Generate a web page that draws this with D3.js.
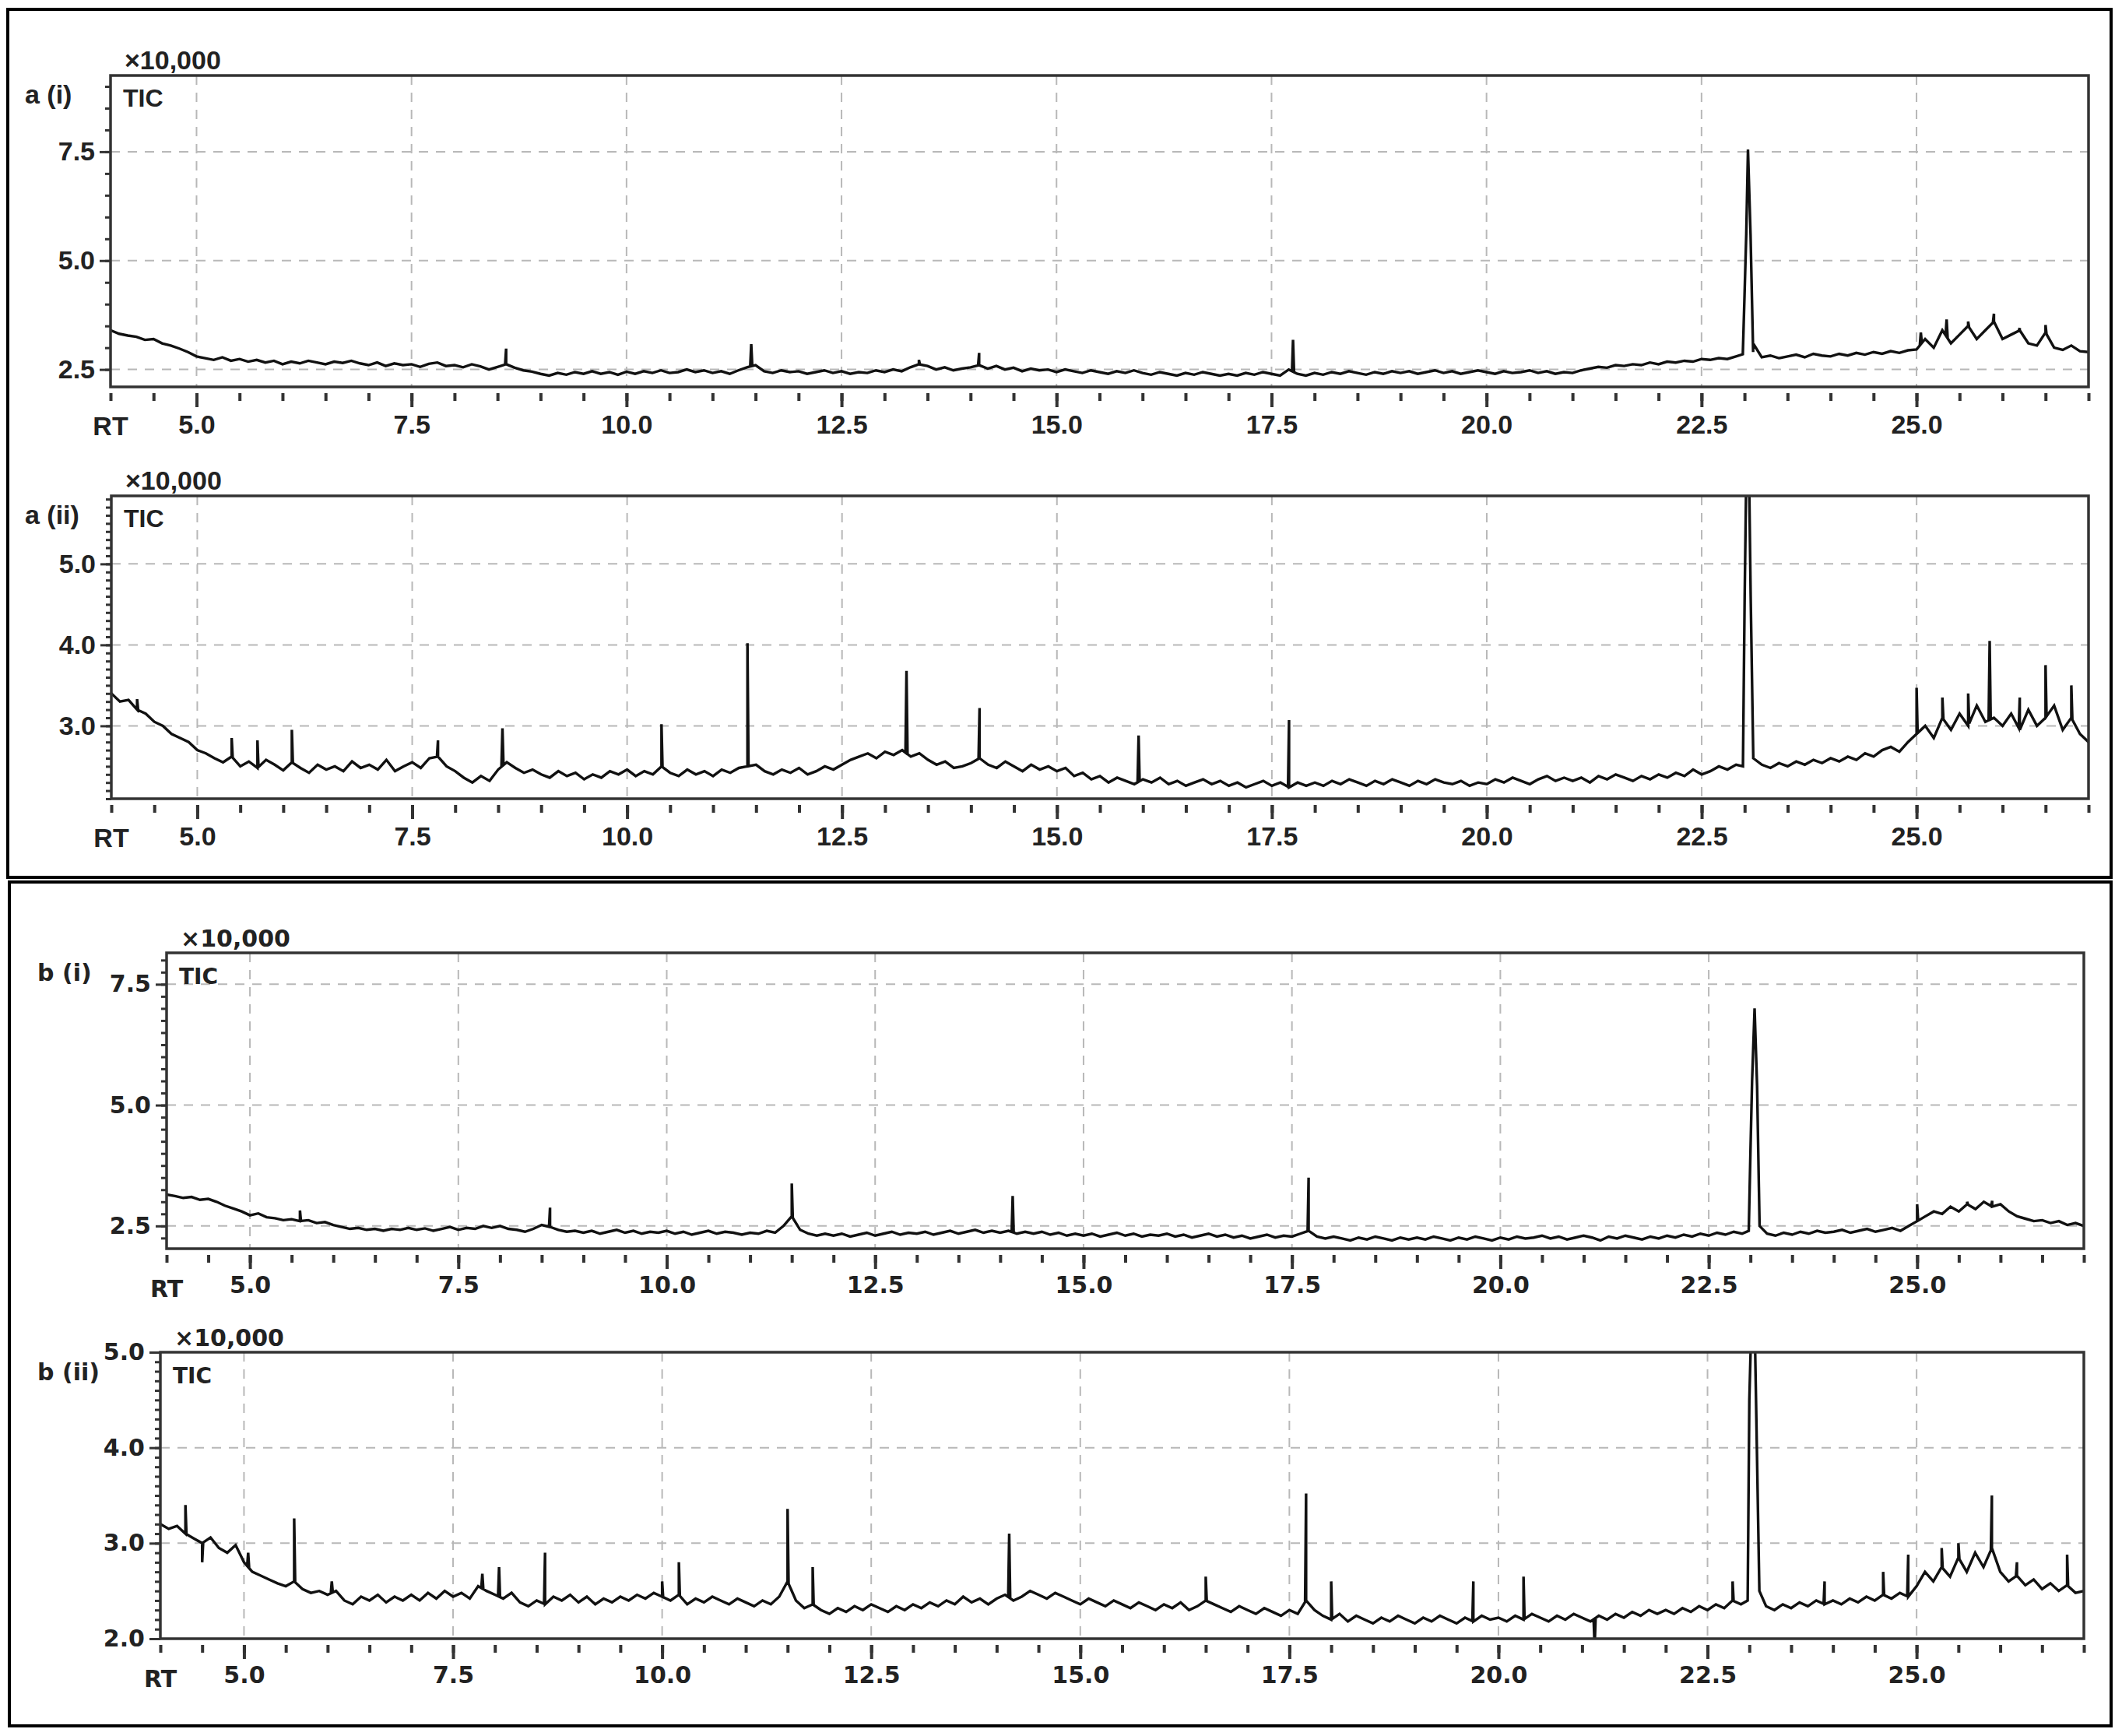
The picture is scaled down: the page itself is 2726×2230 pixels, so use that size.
<!DOCTYPE html>
<html>
<head>
<meta charset="utf-8">
<script src="https://cdn.jsdelivr.net/npm/d3@7"></script>
<style>
  body { margin: 0; background: #fff; }
  svg { display: block; }
</style>
</head>
<body>
<svg id="chart" width="2726" height="2230"></svg>
<script>
// retention time grid: 4.0 .. 27.0 min, step 0.1  (intensities x10,000)
var rtStart = 4.0, rtStep = 0.1;

var aiBase = [
  3.40,3.32,3.28,3.25,3.18,3.20,3.10,3.05,2.98,2.90,
  2.80,2.76,2.72,2.78,2.70,2.74,2.68,2.72,2.66,2.70,
  2.62,2.68,2.64,2.70,2.66,2.62,2.68,2.65,2.70,2.64,
  2.60,2.66,2.58,2.64,2.60,2.62,2.56,2.63,2.66,2.58,
  2.60,2.55,2.62,2.57,2.50,2.56,2.62,2.54,2.48,2.45,
  2.40,2.36,2.42,2.38,2.44,2.40,2.46,2.40,2.44,2.38,
  2.45,2.40,2.46,2.42,2.48,2.42,2.44,2.50,2.44,2.48,
  2.42,2.46,2.40,2.48,2.55,2.60,2.46,2.42,2.48,2.44,
  2.46,2.40,2.44,2.48,2.42,2.46,2.40,2.44,2.42,2.48,
  2.44,2.50,2.46,2.55,2.62,2.58,2.50,2.55,2.48,2.52,
  2.55,2.60,2.52,2.58,2.50,2.54,2.46,2.52,2.48,2.50,
  2.44,2.50,2.46,2.42,2.48,2.44,2.40,2.46,2.42,2.48,
  2.42,2.38,2.44,2.40,2.36,2.42,2.38,2.44,2.40,2.36,
  2.40,2.36,2.42,2.38,2.44,2.40,2.36,2.50,2.40,2.36,
  2.42,2.38,2.44,2.40,2.46,2.42,2.38,2.44,2.40,2.46,
  2.42,2.46,2.40,2.44,2.48,2.42,2.46,2.40,2.44,2.48,
  2.44,2.40,2.46,2.42,2.44,2.48,2.42,2.46,2.40,2.44,
  2.42,2.48,2.52,2.56,2.54,2.60,2.58,2.62,2.60,2.66,
  2.62,2.68,2.66,2.70,2.68,2.74,2.72,2.76,2.74,2.80,
  2.84,2.90,2.78,2.82,2.76,2.80,2.84,2.78,2.86,2.82,
  2.80,2.86,2.82,2.88,2.84,2.90,2.86,2.92,2.88,2.94,
  2.96,3.20,3.00,3.40,3.10,3.30,3.50,3.20,3.40,3.60,
  3.20,3.30,3.40,3.10,3.05,3.35,3.00,2.95,3.05,2.92,
  2.90
];
var aiSpikes = [[8.6,2.98],[11.45,3.08],[13.4,2.72],[14.1,2.88],[17.75,3.18],
  [25.05,3.35],[25.35,3.65],[25.6,3.6],[25.9,3.78],[26.2,3.45],[26.5,3.52]];
var aiMain = [[22.98,2.85],[23.0,4.2],[23.02,5.6],[23.04,7.55],[23.07,5.6],[23.1,3.1]];

var aiiBase = [
  3.40,3.30,3.32,3.20,3.15,3.05,3.00,2.90,2.85,2.80,
  2.70,2.66,2.60,2.55,2.62,2.50,2.56,2.48,2.58,2.52,
  2.45,2.55,2.48,2.42,2.52,2.46,2.50,2.44,2.56,2.48,
  2.52,2.46,2.58,2.44,2.50,2.55,2.48,2.60,2.62,2.50,
  2.44,2.36,2.30,2.38,2.32,2.46,2.55,2.48,2.42,2.46,
  2.40,2.36,2.44,2.38,2.42,2.34,2.40,2.36,2.44,2.40,
  2.46,2.38,2.44,2.40,2.50,2.42,2.38,2.46,2.40,2.44,
  2.38,2.46,2.42,2.48,2.50,2.52,2.44,2.40,2.46,2.42,
  2.48,2.40,2.44,2.50,2.46,2.52,2.58,2.62,2.66,2.60,
  2.68,2.64,2.70,2.62,2.66,2.58,2.52,2.56,2.48,2.50,
  2.54,2.60,2.52,2.48,2.56,2.50,2.44,2.52,2.46,2.50,
  2.44,2.48,2.38,2.42,2.34,2.38,2.30,2.36,2.32,2.28,
  2.34,2.30,2.36,2.28,2.32,2.26,2.30,2.34,2.28,2.32,
  2.26,2.30,2.24,2.28,2.32,2.26,2.30,2.24,2.30,2.26,
  2.30,2.26,2.32,2.28,2.34,2.30,2.26,2.32,2.28,2.34,
  2.30,2.26,2.32,2.28,2.34,2.30,2.28,2.32,2.26,2.30,
  2.28,2.34,2.30,2.36,2.32,2.28,2.34,2.38,2.32,2.36,
  2.32,2.36,2.30,2.38,2.34,2.40,2.36,2.32,2.38,2.34,
  2.40,2.36,2.42,2.38,2.46,2.40,2.44,2.50,2.46,2.52,
  2.55,2.62,2.52,2.48,2.54,2.50,2.56,2.52,2.58,2.54,
  2.60,2.56,2.62,2.58,2.66,2.62,2.70,2.74,2.68,2.80,
  2.90,3.00,2.85,3.10,2.95,3.15,3.00,3.25,3.05,3.10,
  3.00,3.15,2.95,3.20,3.00,3.10,3.25,2.95,3.10,2.90,
  2.80
];
var aiiSpikes = [[4.3,3.33],[5.4,2.85],[5.7,2.82],[6.1,2.95],[7.8,2.82],[8.55,2.97],
  [10.4,3.02],[11.4,4.02],[13.25,3.68],[14.1,3.22],[15.95,2.88],[17.7,3.07],
  [25.0,3.47],[25.3,3.35],[25.6,3.4],[25.85,4.05],[26.2,3.35],[26.5,3.75],[26.8,3.5]];
var aiiMain = [[22.98,2.5],[23.0,4.6],[23.02,6.2],[23.05,6.2],[23.07,4.6],[23.1,2.6]];

var biBase = [
  3.15,3.12,3.08,3.10,3.04,3.06,3.00,2.92,2.86,2.80,
  2.72,2.76,2.68,2.66,2.62,2.64,2.60,2.62,2.56,2.58,
  2.52,2.48,2.44,2.46,2.42,2.44,2.40,2.44,2.42,2.46,
  2.42,2.45,2.40,2.44,2.48,2.42,2.46,2.44,2.50,2.46,
  2.50,2.44,2.42,2.38,2.44,2.52,2.48,2.42,2.38,2.40,
  2.36,2.40,2.34,2.38,2.42,2.36,2.40,2.34,2.38,2.36,
  2.40,2.34,2.38,2.32,2.36,2.40,2.34,2.38,2.36,2.32,
  2.36,2.34,2.40,2.36,2.50,2.70,2.42,2.34,2.30,2.34,
  2.30,2.34,2.28,2.32,2.36,2.30,2.34,2.38,2.32,2.36,
  2.34,2.38,2.32,2.36,2.40,2.34,2.38,2.42,2.36,2.40,
  2.36,2.40,2.34,2.38,2.34,2.38,2.32,2.36,2.30,2.34,
  2.30,2.34,2.28,2.32,2.36,2.30,2.34,2.28,2.32,2.30,
  2.34,2.28,2.32,2.26,2.30,2.34,2.28,2.32,2.26,2.30,
  2.24,2.28,2.32,2.26,2.30,2.28,2.34,2.40,2.28,2.24,
  2.28,2.24,2.20,2.26,2.22,2.28,2.24,2.20,2.26,2.22,
  2.26,2.22,2.28,2.24,2.20,2.26,2.22,2.28,2.24,2.20,
  2.26,2.22,2.28,2.24,2.26,2.30,2.24,2.28,2.22,2.26,
  2.30,2.26,2.20,2.28,2.24,2.30,2.26,2.22,2.28,2.24,
  2.30,2.26,2.32,2.28,2.34,2.30,2.36,2.32,2.38,2.34,
  2.36,2.42,2.34,2.30,2.36,2.32,2.38,2.34,2.40,2.36,
  2.38,2.42,2.36,2.40,2.44,2.38,2.42,2.46,2.40,2.50,
  2.60,2.70,2.80,2.75,2.90,2.80,2.95,2.85,3.00,2.90,
  2.95,2.80,2.70,2.65,2.60,2.62,2.56,2.60,2.52,2.56,
  2.50
];
var biSpikes = [[5.6,2.82],[8.6,2.88],[11.5,3.38],[14.15,3.12],[17.7,3.5],
  [25.0,2.95],[25.6,3.0],[25.9,3.02]];
var biMain = [[22.98,2.4],[23.0,4.0],[23.02,5.5],[23.05,7.0],[23.08,5.4],[23.11,2.5]];

var biiBase = [
  3.20,3.15,3.18,3.10,3.05,3.00,3.06,2.95,2.90,2.98,
  2.80,2.70,2.66,2.62,2.58,2.55,2.60,2.52,2.48,2.50,
  2.46,2.50,2.40,2.36,2.44,2.40,2.46,2.38,2.44,2.40,
  2.46,2.40,2.48,2.42,2.50,2.44,2.48,2.42,2.55,2.50,
  2.46,2.42,2.48,2.38,2.34,2.40,2.36,2.44,2.40,2.46,
  2.38,2.44,2.36,2.42,2.38,2.44,2.40,2.46,2.42,2.48,
  2.44,2.40,2.46,2.36,2.42,2.38,2.44,2.40,2.36,2.42,
  2.38,2.34,2.40,2.36,2.44,2.60,2.40,2.32,2.36,2.30,
  2.26,2.32,2.28,2.34,2.30,2.36,2.32,2.28,2.34,2.30,
  2.36,2.32,2.38,2.34,2.40,2.36,2.44,2.38,2.42,2.36,
  2.42,2.46,2.40,2.44,2.50,2.46,2.42,2.48,2.44,2.40,
  2.36,2.42,2.38,2.34,2.40,2.36,2.32,2.38,2.34,2.30,
  2.36,2.32,2.38,2.30,2.34,2.40,2.36,2.32,2.28,2.34,
  2.30,2.26,2.32,2.28,2.24,2.30,2.26,2.40,2.30,2.24,
  2.20,2.26,2.18,2.24,2.20,2.16,2.22,2.18,2.24,2.20,
  2.16,2.22,2.18,2.24,2.20,2.16,2.22,2.18,2.24,2.20,
  2.22,2.18,2.24,2.20,2.26,2.22,2.18,2.24,2.20,2.26,
  2.22,2.18,2.24,2.20,2.26,2.22,2.28,2.24,2.30,2.26,
  2.30,2.26,2.32,2.28,2.34,2.30,2.36,2.32,2.40,2.36,
  2.38,2.42,2.34,2.30,2.36,2.32,2.38,2.34,2.40,2.36,
  2.40,2.36,2.42,2.38,2.44,2.40,2.46,2.42,2.48,2.44,
  2.55,2.70,2.60,2.75,2.65,2.85,2.70,2.90,2.75,2.95,
  2.70,2.60,2.66,2.56,2.62,2.52,2.58,2.50,2.56,2.48,
  2.50
];
var biiSpikes = [[4.3,3.4],[4.5,2.8],[5.05,2.9],[5.6,3.26],[6.05,2.6],[7.85,2.68],[8.05,2.75],
  [8.6,2.9],[10.0,2.6],[10.2,2.8],[11.5,3.36],[11.8,2.75],[14.15,3.1],[16.5,2.65],
  [17.7,3.52],[18.0,2.6],[19.7,2.6],[20.3,2.65],[21.15,1.92],[22.8,2.6],[23.9,2.6],
  [24.6,2.7],[24.9,2.88],[25.3,2.95],[25.5,3.0],[25.9,3.5],[26.2,2.8],[26.8,2.88]];
var biiMain = [[22.98,2.4],[23.0,4.5],[23.03,5.5],[23.06,5.5],[23.09,4.0],[23.12,2.5]];

var xTicks = [5.0, 7.5, 10.0, 12.5, 15.0, 17.5, 20.0, 22.5, 25.0];

var panels = [
  {label: "a (i)", base: aiBase, spikes: aiSpikes, main: aiMain, font: "Liberation Sans",
   box: [142, 2683, 97, 497], y: [2.1, 9.25], major: [2.5, 5.0, 7.5], minor: 0.5, labelX: 32},
  {label: "a (ii)", base: aiiBase, spikes: aiiSpikes, main: aiiMain, font: "Liberation Sans",
   box: [143, 2683, 637, 1026], y: [2.1, 5.84], major: [3.0, 4.0, 5.0], minor: 0.1, labelX: 32},
  {label: "b (i)", base: biBase, spikes: biSpikes, main: biMain, font: "DejaVu Sans",
   box: [214, 2677, 1224, 1604], y: [2.03, 8.15], major: [2.5, 5.0, 7.5], minor: 0.25, labelX: 48},
  {label: "b (ii)", base: biiBase, spikes: biiSpikes, main: biiMain, font: "DejaVu Sans",
   box: [206, 2677, 1737, 2105], y: [2.0, 5.0], major: [2.0, 3.0, 4.0, 5.0], minor: 0.1, labelX: 48}
];

var svg = d3.select("#chart");

// outer frames
svg.append("rect").attr("x", 10).attr("y", 12).attr("width", 2702).attr("height", 1115)
  .attr("fill", "none").attr("stroke", "#000").attr("stroke-width", 4);
svg.append("rect").attr("x", 12).attr("y", 1133).attr("width", 2700).attr("height", 1084)
  .attr("fill", "none").attr("stroke", "#000").attr("stroke-width", 4);

function buildTrace(p) {
  var pts = p.base.map(function(v, i) { return [rtStart + i * rtStep, v]; });
  function baseAt(t) {
    var i = Math.min(p.base.length - 2, Math.floor((t - rtStart) / rtStep));
    var f = (t - (rtStart + i * rtStep)) / rtStep;
    return p.base[i] * (1 - f) + p.base[i + 1] * f;
  }
  p.spikes.forEach(function(s) {
    pts.push([s[0] - 0.012, baseAt(s[0] - 0.012)]);
    pts.push([s[0], s[1]]);
    pts.push([s[0] + 0.012, baseAt(s[0] + 0.012)]);
  });
  p.main.forEach(function(s) { pts.push(s); });
  // drop base points covered by the main peak
  var lo = p.main[0][0], hi = p.main[p.main.length - 1][0];
  pts = pts.filter(function(d) {
    return !(d[0] > lo && d[0] < hi && p.main.indexOf(d) < 0);
  });
  pts.sort(function(a, b) { return a[0] - b[0]; });
  return pts;
}

panels.forEach(function(p, k) {
  var L = p.box[0], R = p.box[1], T = p.box[2], B = p.box[3];
  var x = d3.scaleLinear().domain([4.0, 27.0]).range([L, R]);
  var y = d3.scaleLinear().domain(p.y).range([B, T]);
  var g = svg.append("g");
  var fs = p.font === "DejaVu Sans" ? 30 : 34;

  // grid
  g.selectAll(".gx").data(xTicks).enter().append("line")
    .attr("x1", x).attr("x2", x).attr("y1", T).attr("y2", B)
    .attr("stroke", "#b8b8b8").attr("stroke-width", 2).attr("stroke-dasharray", "12,10");
  g.selectAll(".gy").data(p.major.filter(function(v) { return v > p.y[0] + 0.01 && v < p.y[1] - 0.01; }))
    .enter().append("line")
    .attr("x1", L).attr("x2", R).attr("y1", y).attr("y2", y)
    .attr("stroke", "#b8b8b8").attr("stroke-width", 2).attr("stroke-dasharray", "12,10");

  // trace
  var clipId = "clip" + k;
  svg.append("clipPath").attr("id", clipId).append("rect")
    .attr("x", L).attr("y", T).attr("width", R - L).attr("height", B - T);
  var line = d3.line().x(function(d) { return x(d[0]); }).y(function(d) { return y(d[1]); });
  g.append("path").datum(buildTrace(p)).attr("d", line)
    .attr("clip-path", "url(#" + clipId + ")")
    .attr("fill", "none").attr("stroke", "#111").attr("stroke-width", 3.4)
    .attr("stroke-linejoin", "miter");

  // frame
  g.append("rect").attr("x", L).attr("y", T).attr("width", R - L).attr("height", B - T)
    .attr("fill", "none").attr("stroke", "#333").attr("stroke-width", 3.5);

  // y axis: ticks outward
  var yMinor = d3.range(Math.ceil(p.y[0] / p.minor) * p.minor, p.y[1], p.minor);
  var yAxis = d3.axisLeft(y).tickValues(yMinor).tickSize(7).tickFormat("");
  g.append("g").attr("transform", "translate(" + L + ",0)").call(yAxis)
    .call(function(a) { a.select(".domain").remove(); a.selectAll("line").attr("stroke", "#333").attr("stroke-width", 3); });
  var yMajor = d3.axisLeft(y).tickValues(p.major).tickSize(14).tickPadding(6).tickFormat(d3.format(".1f"));
  g.append("g").attr("transform", "translate(" + L + ",0)").call(yMajor)
    .call(function(a) {
      a.select(".domain").remove();
      a.selectAll("line").attr("stroke", "#333").attr("stroke-width", 3);
      a.selectAll("text").attr("font-family", p.font).attr("font-weight", "bold")
        .attr("font-size", fs).attr("fill", "#222");
    });

  // x axis: ticks below with small gap
  var xMinor = d3.range(4.0, 27.01, 0.5);
  g.append("g").attr("transform", "translate(0," + (B + 8) + ")")
    .call(d3.axisBottom(x).tickValues(xMinor).tickSize(10).tickFormat(""))
    .call(function(a) { a.select(".domain").remove(); a.selectAll("line").attr("stroke", "#333").attr("stroke-width", 4); });
  g.append("g").attr("transform", "translate(0," + (B + 8) + ")")
    .call(d3.axisBottom(x).tickValues(xTicks).tickSize(18).tickPadding(10).tickFormat(d3.format(".1f")))
    .call(function(a) {
      a.select(".domain").remove();
      a.selectAll("line").attr("stroke", "#333").attr("stroke-width", 4);
      a.selectAll("text").attr("font-family", p.font).attr("font-weight", "bold")
        .attr("font-size", fs).attr("fill", "#222");
    });

  var txt = function(s, tx, ty, anchor, size) {
    g.append("text").attr("x", tx).attr("y", ty).attr("text-anchor", anchor || "start")
      .attr("font-family", p.font).attr("font-weight", "bold")
      .attr("font-size", size || fs).attr("fill", "#222").text(s);
  };
  txt("RT", L, B + 62, "middle");
  txt("\u00d710,000", L + 18, T - 8, "start");
  txt("TIC", L + 16, T + 40, "start", fs - 2);
  txt(p.label, p.labelX, T + 36, "start");
});
</script>
</body>
</html>
